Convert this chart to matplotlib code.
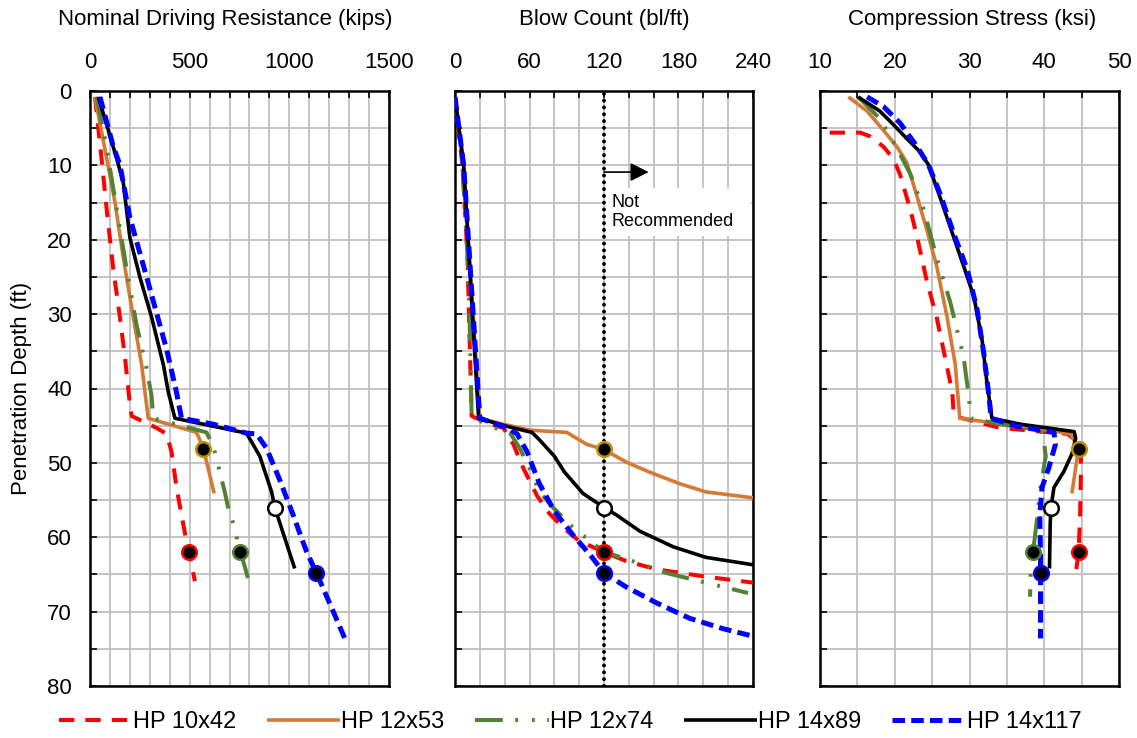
import matplotlib
matplotlib.use("Agg")
import matplotlib.pyplot as plt
from matplotlib.ticker import MultipleLocator
from matplotlib.patches import Rectangle

plt.rcParams['font.family'] = ['Liberation Sans', 'DejaVu Sans']
plt.rcParams['lines.scale_dashes'] = False

# pile sections
labels = ["HP 10x42", "HP 12x53", "HP 12x74", "HP 14x89", "HP 14x117"]

# Nominal driving resistance (kips) vs depth (ft)
res_10x42 = [25, 58, 84, 117, 150, 175, 200, 209, 334, 384, 409, 434, 459, 484, 498, 526]
res_10x42_d = [0.8, 9.1, 16, 24, 30.4, 35.7, 42.1, 43.7, 45.3, 46.1, 48.5, 53.3, 57, 60.5, 62, 65.9]
res_12x53 = [25, 125, 167, 217, 259, 292, 534, 551, 568, 623]
res_12x53_d = [0.8, 14.9, 22.4, 30.4, 36.8, 44, 45.9, 46.9, 48, 54.1]
res_12x74 = [33, 75, 125, 184, 234, 284, 309, 317, 501, 584, 618, 651, 676, 693, 718, 743, 755, 777, 802]
res_12x74_d = [0.8, 6.4, 14.4, 24, 31.5, 37.3, 41, 44, 45.3, 45.9, 47.7, 51.2, 53.9, 56, 58.1, 60.8, 62, 64, 66.4]
res_14x89 = [42, 92, 134, 167, 200, 251, 309, 368, 393, 426, 785, 852, 911, 927, 1027]
res_14x89_d = [0.8, 5.3, 9.1, 12.3, 19.7, 25.1, 30.4, 36.8, 40.5, 44, 46, 49.1, 53.9, 56, 64.2]
res_14x117 = [50, 117, 150, 200, 284, 384, 434, 459, 618, 785, 835, 885, 952, 1019, 1086, 1136, 1219, 1286]
res_14x117_d = [0.8, 7.5, 9.9, 17, 25, 34.7, 40.5, 44, 44.8, 46, 46.1, 48, 52.3, 57, 61.9, 64.8, 69.9, 74.1]

# Blow count (bl/ft) vs depth (ft)
blow_10x42 = [0, 6, 10, 12, 13.4, 28, 39, 47, 55, 66, 76, 87, 100, 120, 138, 162, 202, 240]
blow_10x42_d = [0.8, 10, 22, 35, 43.7, 44.8, 45.3, 47.5, 50.7, 54.4, 56.8, 58.7, 60.5, 62, 63.2, 64.3, 65.3, 66.1]
blow_12x53 = [0, 7, 20, 39, 60, 90, 106, 120, 138, 156, 181, 202, 240]
blow_12x53_d = [0.8, 10, 44, 44.8, 45.6, 45.9, 47.5, 48.2, 49.9, 51.2, 52.8, 53.9, 54.7]
blow_12x74 = [0, 6, 11, 13.4, 28, 44, 52, 60, 68, 79, 95, 111, 120, 138, 170, 202, 236]
blow_12x74_d = [0.8, 10, 25, 43.7, 45.1, 45.9, 48, 50.7, 53.9, 56, 58.7, 60.8, 62, 62.9, 64.8, 66.1, 67.5]
blow_14x89 = [0, 7, 19, 42, 62, 68, 80, 88, 103, 120, 130, 149, 176, 202, 240]
blow_14x89_d = [0.8, 10, 44, 45.1, 45.9, 46.9, 49.1, 51.2, 54.1, 56, 57, 59.2, 61.3, 62.7, 63.7]
blow_14x117 = [0, 7, 20, 42, 50, 58, 68, 80, 95, 109, 120, 138, 162, 189, 216, 240]
blow_14x117_d = [0.8, 10, 44, 45.3, 46.1, 48.5, 52.8, 56.5, 59.7, 62.4, 64.8, 66.7, 68.8, 70.9, 72.3, 73.3]

# Compression stress (ksi) vs depth (ft)
stress_10x42 = [11.3, 15.4, 16.7, 18.5, 19.8, 20.7, 22.1, 23, 24.3, 25.6, 26.5, 27.7, 27.9, 34.1, 43.1, 44.9, 44.9, 44.8, 44.6, 44.2]
stress_10x42_d = [5.6, 5.6, 6.1, 7.5, 9.1, 11.2, 16, 19.7, 25.6, 30.4, 34.7, 40.5, 43.7, 45.3, 46.1, 47.5, 51.7, 57, 62, 65]
stress_12x53 = [13.8, 16.3, 18.5, 20.3, 21.6, 22.9, 24.3, 25.6, 27, 28.1, 28.7, 32.3, 38.6, 43.5, 44.6, 43.7]
stress_12x53_d = [0.8, 2.7, 5.3, 7.5, 9.6, 13.9, 18.7, 23.5, 30.4, 36.8, 44, 44.5, 45.3, 46.1, 48, 54.1]
stress_12x74 = [15.1, 18, 20.3, 22.1, 23.9, 25.6, 27.4, 29.2, 29.9, 30.2, 34.1, 39.5, 39.9, 40.2, 39.5, 39.1, 38.5, 38.2, 38.1]
stress_12x74_d = [0.8, 3.7, 7.7, 11.2, 16, 22.4, 28.3, 35.7, 41, 44, 44.8, 45.6, 46.7, 49.1, 53.3, 57, 62, 64, 68]
stress_14x89 = [15.1, 18, 19.8, 21.6, 23.2, 24.5, 26.1, 27.9, 29.2, 30.6, 31.7, 32.3, 33, 36.8, 44, 44.2, 43.7, 42.6, 41.3, 40.9, 40.8, 40.7]
stress_14x89_d = [0.8, 2.7, 4.5, 6.4, 8, 9.9, 14.4, 19.7, 23.5, 27.7, 33.6, 38.9, 44, 44.8, 45.8, 46.7, 48.8, 51.2, 53.3, 56, 58.1, 64.2]
stress_14x117 = [16.3, 18.5, 20.7, 23, 24.5, 26.1, 27.9, 29.7, 31, 31.9, 32.6, 32.9, 36.4, 41.3, 41.5, 40.6, 39.7, 39.4, 39.5, 39.5, 39.5]
stress_14x117_d = [0.8, 2.1, 4.3, 7.5, 9.9, 13.9, 19.2, 24, 29.3, 35.2, 41, 44, 45.1, 45.9, 47.5, 50.7, 53.3, 57, 62.4, 64.8, 73.6]

# marker points (depth where blow count reaches 120 bl/ft)
mark_depth = [62, 48.2, 62, 56, 64.8]
mark_res = [498, 568, 755, 927, 1136]
mark_blow = [120, 120, 120, 120, 120]
mark_stress = [44.6, 44.6, 38.5, 40.9, 39.5]

colors = ["#FF0000", "#D47A35", "#548235", "#000000", "#0000FF"]
edge_colors = ["#FF0000", "#BF9000", "#548235", "#000000", "#0000FF"]
face_colors = ["#000000", "#000000", "#000000", "#FFFFFF", "#000000"]
styles = [(0, (11, 8)), "-", (0, (20, 9, 2, 10, 2, 9)), "-", (0, (9, 4.5))]
widths = [2.9, 2.6, 2.9, 2.6, 3.6]

W, H = 1137, 738
fig = plt.figure(figsize=(W / 100, H / 100), dpi=100)

def ax_rect(x0, x1, y0=91, y1=686):
    return [x0 / W, 1 - y1 / H, (x1 - x0) / W, (y1 - y0) / H]

ax1 = fig.add_axes(ax_rect(90, 389))
ax2 = fig.add_axes(ax_rect(455, 753))
ax3 = fig.add_axes(ax_rect(820, 1119))

panels = [
    (ax1, [res_10x42, res_12x53, res_12x74, res_14x89, res_14x117],
     [res_10x42_d, res_12x53_d, res_12x74_d, res_14x89_d, res_14x117_d],
     mark_res, (0, 1500), 500, 100),
    (ax2, [blow_10x42, blow_12x53, blow_12x74, blow_14x89, blow_14x117],
     [blow_10x42_d, blow_12x53_d, blow_12x74_d, blow_14x89_d, blow_14x117_d],
     mark_blow, (0, 240), 60, 20),
    (ax3, [stress_10x42, stress_12x53, stress_12x74, stress_14x89, stress_14x117],
     [stress_10x42_d, stress_12x53_d, stress_12x74_d, stress_14x89_d, stress_14x117_d],
     mark_stress, (10, 50), 10, 5),
]

handles = []
for ax, xs, ds, mk, xlim, major, minor in panels:
    for i in range(5):
        ln, = ax.plot(xs[i], ds[i], color=colors[i], ls=styles[i], lw=widths[i],
                      label=labels[i], zorder=3 + i * 0.1, solid_capstyle="butt")
        if ax is ax1:
            handles.append(ln)
    for i in reversed(range(5)):
        ax.plot(mk[i], mark_depth[i], "o", ms=10.5, mfc=face_colors[i],
                mec=edge_colors[i], mew=1.8, zorder=5)
    ax.set_xlim(*xlim)
    ax.set_ylim(80, 0)
    ax.xaxis.set_major_locator(MultipleLocator(major))
    ax.xaxis.set_minor_locator(MultipleLocator(minor))
    ax.yaxis.set_major_locator(MultipleLocator(10))
    ax.yaxis.set_minor_locator(MultipleLocator(5))
    ax.grid(True, which="both", color="#BFBFBF", lw=1.3, zorder=0)
    ax.set_axisbelow(True)
    ax.tick_params(which="both", direction="in", top=True, bottom=False,
                   labeltop=True, labelbottom=False, left=True, length=5,
                   width=1.2, labelsize=16, pad=13)
    for s in ax.spines.values():
        s.set_linewidth(1.8)

ax2.tick_params(labelleft=False)
ax3.tick_params(labelleft=False)

# 120 bl/ft limit
ax2.axvline(120, color="black", ls=(0, (0.1, 4.8)), lw=2.8, dash_capstyle="round", zorder=4)
ax2.annotate("", xy=(156, 10.9), xytext=(120, 10.9),
             arrowprops=dict(arrowstyle="-|>", lw=1.2, color="black", mutation_scale=28,
                             shrinkA=0, shrinkB=0), zorder=4)
ax2.add_patch(Rectangle((121, 13.1), 117.5, 6.4, facecolor="white", edgecolor="none", zorder=1.5))
ax2.text(126, 13.9, "Not\nRecommended", fontsize=13, va="top", ha="left",
         linespacing=1.15, zorder=4)

fig.text(225 / W, 1 - 19 / H, "Nominal Driving Resistance (kips)", fontsize=16, ha="center", va="center")
fig.text(604 / W, 1 - 19 / H, "Blow Count (bl/ft)", fontsize=16, ha="center", va="center")
fig.text(972 / W, 1 - 19 / H, "Compression Stress (ksi)", fontsize=16, ha="center", va="center")
fig.text(22 / W, 1 - 388 / H, "Penetration Depth (ft)", fontsize=16, rotation=90, ha="center", va="center")

fig.legend(handles=handles, loc="center", bbox_to_anchor=(570 / W, 1 - 722 / H), ncol=5,
           frameon=False, fontsize=17, handlelength=3.1, handletextpad=0.05, columnspacing=1.3)

fig.savefig("out.png", dpi=100)
